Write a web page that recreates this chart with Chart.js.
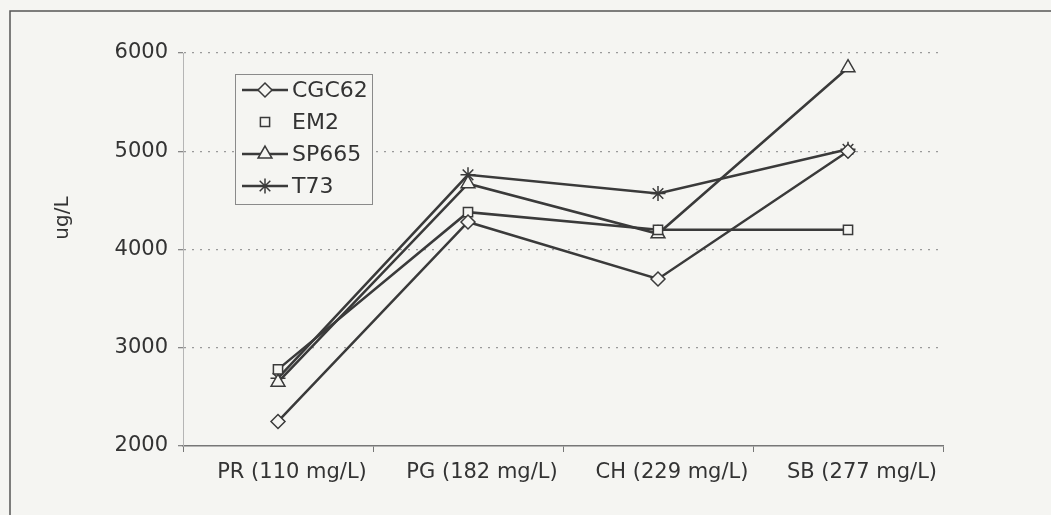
<!DOCTYPE html>
<html><head><meta charset="utf-8">
<script src="https://cdn.jsdelivr.net/npm/chart.js@4"></script>
<style>html,body{margin:0;padding:0;background:#f5f5f2;overflow:hidden}#wrap{width:1051px;height:515px;position:relative}</style>
</head><body><div id="wrap"><canvas id="c" width="1051" height="515"></canvas></div>
<script>
const categories = ['PR (110 mg/L)', 'PG (182 mg/L)', 'CH (229 mg/L)', 'SB (277 mg/L)'];
const seriesNames = ['CGC62', 'EM2', 'SP665', 'T73'];
const cgc62 = [2250, 4280, 3700, 5000];
const em2 = [2780, 4380, 4200, 4200];
const sp665 = [2650, 4670, 4160, 5850];
const t73 = [2690, 4760, 4570, 5020];
const yTicks = [2000, 3000, 4000, 5000, 6000];
const yAxisTitle = 'ug/L';

const PAPER = '#f5f5f2';
const INK = '#3a3a3a';

function drawMarker(ctx, style, x, y, r) {
  ctx.beginPath();
  if (style === 'rectRot') {
    ctx.moveTo(x - r, y); ctx.lineTo(x, y - r); ctx.lineTo(x + r, y); ctx.lineTo(x, y + r); ctx.closePath();
    ctx.fill(); ctx.stroke();
  } else if (style === 'rect') {
    const s = r * Math.SQRT1_2;
    ctx.rect(x - s, y - s, 2 * s, 2 * s); ctx.fill(); ctx.stroke();
  } else if (style === 'triangle') {
    ctx.moveTo(x, y - r);
    ctx.lineTo(x + r * Math.sin(Math.PI / 3 * 2), y + r * 0.5);
    ctx.lineTo(x - r * Math.sin(Math.PI / 3 * 2), y + r * 0.5);
    ctx.closePath(); ctx.fill(); ctx.stroke();
  } else if (style === 'star') {
    for (let k = 0; k < 4; k++) {
      const a = k * Math.PI / 4;
      ctx.moveTo(x - Math.sin(a) * r, y - Math.cos(a) * r);
      ctx.lineTo(x + Math.sin(a) * r, y + Math.cos(a) * r);
    }
    ctx.stroke();
  }
}

const paperPlugin = {
  id: 'paper',
  beforeDraw(chart) {
    const ctx = chart.ctx;
    ctx.save();
    ctx.fillStyle = PAPER;
    ctx.fillRect(0, 0, chart.width, chart.height);
    ctx.strokeStyle = '#555';
    ctx.lineWidth = 1.5;
    ctx.beginPath();
    ctx.moveTo(10, chart.height); ctx.lineTo(10, 11); ctx.lineTo(chart.width, 11);
    ctx.stroke();
    ctx.restore();
  }
};

const yTitlePlugin = {
  id: 'yTitle',
  afterDraw(chart) {
    const ctx = chart.ctx;
    ctx.save();
    ctx.translate(63, 218);
    ctx.rotate(-Math.PI / 2);
    ctx.font = '20px "DejaVu Sans"';
    ctx.fillStyle = '#333';
    ctx.textAlign = 'center';
    ctx.textBaseline = 'middle';
    ctx.fillText(yAxisTitle, 0, 0);
    ctx.restore();
  }
};

const boxLegendPlugin = {
  id: 'boxLegend',
  afterDraw(chart) {
    const ctx = chart.ctx;
    const box = {x: 235, y: 74, w: 137, h: 130};
    ctx.save();
    ctx.fillStyle = PAPER;
    ctx.fillRect(box.x, box.y, box.w, box.h);
    ctx.strokeStyle = '#8a8a8a';
    ctx.lineWidth = 1;
    ctx.strokeRect(box.x + 0.5, box.y + 0.5, box.w, box.h);
    chart.data.datasets.forEach((ds, i) => {
      const y = 90 + i * 32;
      ctx.strokeStyle = ds.borderColor;
      ctx.lineWidth = ds.borderWidth;
      if (ds.legendLine !== false) {
        ctx.beginPath(); ctx.moveTo(242, y); ctx.lineTo(288, y); ctx.stroke();
      }
      ctx.fillStyle = PAPER;
      ctx.lineWidth = ds.pointBorderWidth;
      drawMarker(ctx, ds.pointStyle, 265, y, ds.pointRadius);
      ctx.fillStyle = '#333';
      ctx.font = '22px "DejaVu Sans"';
      ctx.textAlign = 'left';
      ctx.textBaseline = 'middle';
      ctx.fillText(ds.label, 292, y + 1);
    });
    ctx.restore();
  }
};

function series(label, data, style, radius, legendLine) {
  return {
    label, data,
    borderColor: INK, borderWidth: 2.5,
    pointStyle: style, pointRadius: radius, pointHoverRadius: radius,
    pointBackgroundColor: PAPER, pointBorderColor: INK, pointBorderWidth: 1.5,
    tension: 0, fill: false, legendLine
  };
}

new Chart(document.getElementById('c'), {
  type: 'line',
  data: {
    labels: categories,
    datasets: [
      series(seriesNames[0], cgc62, 'rectRot', 7, true),
      series(seriesNames[1], em2, 'rect', 6.5, false),
      series(seriesNames[2], sp665, 'triangle', 8, true),
      series(seriesNames[3], t73, 'star', 7.5, true)
    ]
  },
  options: {
    responsive: false,
    animation: false,
    devicePixelRatio: 1,
    layout: {padding: {left: 0, top: 53, right: 108, bottom: 0}},
    plugins: {legend: {display: false}, tooltip: {enabled: false}},
    scales: {
      x: {
        offset: true,
        afterFit(s) { s.height = 69; },
        grid: {offset: true, drawOnChartArea: false, drawTicks: true, tickLength: 6, tickColor: '#777', tickWidth: 1},
        border: {display: true, color: '#777', width: 1.5},
        ticks: {labelOffset: 14, padding: 8, color: '#333', font: {family: 'DejaVu Sans', size: 21}, maxRotation: 0, autoSkip: false}
      },
      y: {
        min: yTicks[0], max: yTicks[yTicks.length - 1],
        afterFit(s) { s.width = 183; },
        afterBuildTicks(s) { s.ticks = yTicks.map(v => ({value: v})); },
        grid: {
          color: ctx => (ctx.tick && ctx.tick.value === yTicks[0]) ? 'rgba(0,0,0,0)' : '#9a9a9a',
          lineWidth: 1.3, drawTicks: true, tickLength: 5, tickColor: '#888', tickBorderDash: []
        },
        border: {display: true, color: '#b5b5b5', width: 1, dash: [2, 6]},
        ticks: {padding: 10, color: '#333', font: {family: 'DejaVu Sans', size: 21}, callback: v => String(v)}
      }
    }
  },
  plugins: [paperPlugin, yTitlePlugin, boxLegendPlugin]
});
</script>
</body></html>
